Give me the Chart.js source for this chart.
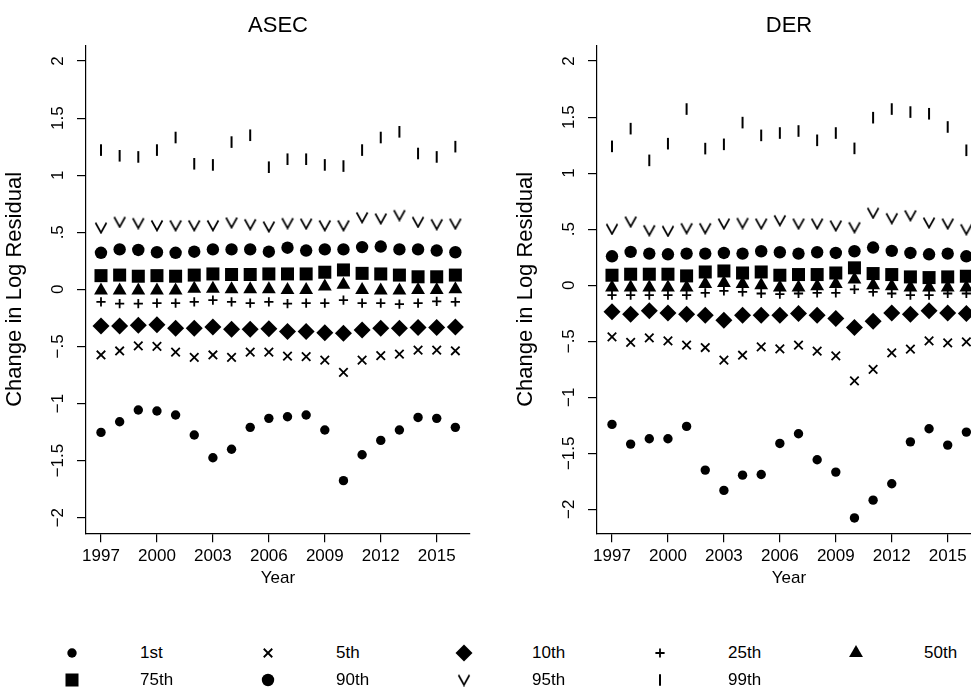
<!DOCTYPE html>
<html>
<head>
  <title>Change in Log Residual by Percentile: ASEC and DER</title>
  <script src="https://cdn.jsdelivr.net/npm/chart.js"></script>
  <style>
    body { margin: 0; background: #fff; overflow: hidden; font-family: "Liberation Sans", Arial, Helvetica, sans-serif; }
    #wrap { position: relative; width: 971px; height: 698px; overflow: hidden; }
    canvas.panel { position: absolute; top: 0; }
    .key { position: absolute; font-size: 17px; line-height: 20px; color: #000; white-space: nowrap; }
    .mark { position: absolute; }
  </style>
</head>
<body>
<div id="wrap">
  <canvas id="asec" class="panel" width="480" height="600" style="left:0px"></canvas>
  <canvas id="der" class="panel" width="480" height="600" style="left:511px"></canvas>
  <div id="legend"></div>
</div>
<script>
  const FONT = '"Liberation Sans", Arial, Helvetica, sans-serif';

  const years = [1997, 1998, 1999, 2000, 2001, 2002, 2003, 2004, 2005, 2006,
                 2007, 2008, 2009, 2010, 2011, 2012, 2013, 2014, 2015, 2016];
  const xTicks = [1997, 2000, 2003, 2006, 2009, 2012, 2015];
  const yTicks = [-2, -1.5, -1, -0.5, 0, 0.5, 1, 1.5, 2];
  const yTickLabels = ['−2', '−1.5', '−1', '−.5', '0', '.5', '1', '1.5', '2'];
  const pctLabels = ['1st', '5th', '10th', '25th', '50th', '75th', '90th', '95th', '99th'];

  // ASEC
  const asecP1  = [-1.253, -1.160, -1.057, -1.066, -1.101, -1.276, -1.475, -1.401, -1.209, -1.130,
                   -1.116, -1.101, -1.232, -1.676, -1.449, -1.323, -1.232, -1.122, -1.130, -1.209];
  const asecP5  = [-0.575, -0.54, -0.495, -0.50, -0.55, -0.595, -0.575, -0.595, -0.55, -0.55,
                   -0.585, -0.59, -0.62, -0.727, -0.62, -0.58, -0.567, -0.532, -0.532, -0.538];
  const asecP10 = [-0.32, -0.32, -0.315, -0.31, -0.34, -0.34, -0.33, -0.35, -0.35, -0.345,
                   -0.37, -0.37, -0.38, -0.385, -0.355, -0.34, -0.34, -0.335, -0.335, -0.33];
  const asecP25 = [-0.11, -0.125, -0.125, -0.12, -0.12, -0.11, -0.095, -0.11, -0.12, -0.11,
                   -0.125, -0.12, -0.12, -0.095, -0.12, -0.12, -0.13, -0.12, -0.105, -0.11];
  const asecP50 = [-0.01, -0.01, -0.01, -0.01, -0.01, 0.005, 0.005, 0.0, 0.0, 0.0,
                   -0.005, -0.005, 0.025, 0.04, -0.005, -0.01, -0.01, -0.005, -0.005, 0.0];
  const asecP75 = [0.12, 0.125, 0.115, 0.12, 0.115, 0.125, 0.135, 0.13, 0.13, 0.135,
                   0.135, 0.135, 0.15, 0.17, 0.14, 0.135, 0.125, 0.11, 0.11, 0.125];
  const asecP90 = [0.32, 0.35, 0.345, 0.325, 0.32, 0.33, 0.35, 0.35, 0.35, 0.33,
                   0.365, 0.34, 0.35, 0.35, 0.37, 0.375, 0.35, 0.35, 0.34, 0.325];
  const asecP95 = [0.54, 0.59, 0.58, 0.56, 0.56, 0.56, 0.56, 0.585, 0.57, 0.55,
                   0.58, 0.575, 0.56, 0.56, 0.63, 0.62, 0.65, 0.59, 0.57, 0.575];
  const asecP99 = [1.22, 1.17, 1.16, 1.22, 1.33, 1.10, 1.09, 1.29, 1.35, 1.07,
                   1.14, 1.14, 1.09, 1.08, 1.22, 1.33, 1.38, 1.19, 1.16, 1.25];

  // DER
  const derP1  = [-1.242, -1.418, -1.370, -1.370, -1.260, -1.650, -1.831, -1.695, -1.689, -1.412,
                  -1.326, -1.558, -1.668, -2.077, -1.918, -1.772, -1.398, -1.281, -1.427, -1.311];
  const derP5  = [-0.461, -0.511, -0.470, -0.497, -0.535, -0.556, -0.669, -0.625, -0.550, -0.568,
                  -0.535, -0.588, -0.630, -0.853, -0.752, -0.603, -0.571, -0.497, -0.514, -0.505];
  const derP10 = [-0.238, -0.259, -0.229, -0.247, -0.259, -0.268, -0.312, -0.268, -0.268, -0.268,
                  -0.253, -0.268, -0.297, -0.378, -0.321, -0.247, -0.259, -0.229, -0.247, -0.253];
  const derP25 = [-0.089, -0.089, -0.089, -0.089, -0.089, -0.068, -0.05, -0.059, -0.074, -0.079,
                  -0.074, -0.068, -0.068, -0.038, -0.059, -0.074, -0.089, -0.089, -0.074, -0.074];
  const derP50 = [-0.02, -0.02, -0.02, -0.02, -0.02, 0.01, 0.02, 0.01, 0.0, -0.02,
                  -0.02, -0.01, 0.01, 0.05, 0.0, -0.01, -0.02, -0.02, -0.02, -0.02];
  const derP75 = [0.089, 0.098, 0.098, 0.098, 0.083, 0.118, 0.127, 0.109, 0.118, 0.089,
                  0.095, 0.095, 0.109, 0.155, 0.104, 0.095, 0.074, 0.068, 0.074, 0.080];
  const derP90 = [0.258, 0.297, 0.282, 0.276, 0.282, 0.282, 0.288, 0.282, 0.303, 0.294,
                  0.282, 0.294, 0.288, 0.303, 0.336, 0.306, 0.288, 0.276, 0.282, 0.258];
  const derP95 = [0.502, 0.567, 0.49, 0.484, 0.508, 0.508, 0.549, 0.555, 0.549, 0.579,
                  0.549, 0.549, 0.532, 0.517, 0.645, 0.597, 0.623, 0.558, 0.549, 0.499];
  const derP99 = [1.239, 1.397, 1.114, 1.263, 1.572, 1.219, 1.257, 1.451, 1.337, 1.358,
                  1.376, 1.293, 1.358, 1.221, 1.495, 1.572, 1.545, 1.530, 1.412, 1.204];

  // "V" marker for the 95th percentile
  function vMark() {
    const c = document.createElement('canvas');
    c.width = 14; c.height = 13;
    const g = c.getContext('2d');
    g.strokeStyle = '#000';
    g.lineWidth = 1.7;
    g.beginPath();
    g.moveTo(1.5, 1.5); g.lineTo(7, 11.5); g.lineTo(12.5, 1.5);
    g.stroke();
    return c;
  }

  const markers = [
    { pointStyle: 'circle',   radius: 4.7, borderWidth: 0 },
    { pointStyle: 'crossRot', radius: 6,   borderWidth: 1.8 },
    { pointStyle: 'rectRot',  radius: 8.5, borderWidth: 0 },
    { pointStyle: 'cross',    radius: 4.6, borderWidth: 1.8 },
    { pointStyle: 'triangle', radius: 8,   borderWidth: 0 },
    { pointStyle: 'rect',     radius: 9.2, borderWidth: 0 },
    { pointStyle: 'circle',   radius: 6.2, borderWidth: 0 },
    { pointStyle: vMark(),    radius: 6,   borderWidth: 0 },
    { pointStyle: 'line',     radius: 5.8, borderWidth: 2, rotation: 90 }
  ];

  function makeDatasets(series) {
    return series.map((vals, i) => ({
      label: pctLabels[i],
      data: years.map((yr, j) => ({ x: yr, y: vals[j] })),
      showLine: false,
      pointStyle: markers[i].pointStyle,
      pointRadius: markers[i].radius,
      pointBorderWidth: markers[i].borderWidth,
      pointRotation: markers[i].rotation || 0,
      pointBackgroundColor: '#000',
      pointBorderColor: '#000',
      clip: false
    }));
  }

  const axisGrid = { drawOnChartArea: false, drawTicks: true, tickLength: 9, color: '#000', lineWidth: 1.2 };
  const axisBorder = { display: true, color: '#000', width: 1.2 };

  function panel(id, title, series, yMin, yMax) {
    new Chart(document.getElementById(id), {
      type: 'scatter',
      data: { datasets: makeDatasets(series) },
      options: {
        responsive: false,
        animation: false,
        events: [],
        layout: { padding: { left: 0, right: 10, top: 0, bottom: 0 } },
        plugins: {
          legend: { display: false },
          tooltip: { enabled: false },
          title: {
            display: true, text: title, fullSize: false, color: '#000',
            font: { family: FONT, size: 22, weight: 'normal' },
            padding: { top: 13, bottom: 6 }
          }
        },
        scales: {
          x: {
            type: 'linear', min: 1996.196, max: 2016.785,
            afterBuildTicks: s => { s.ticks = xTicks.map(v => ({ value: v })); },
            afterFit: s => { s.height = 66.7; },
            ticks: { color: '#000', font: { family: FONT, size: 17 }, padding: 3.5, minRotation: 0, maxRotation: 0,
                     callback: v => String(v) },
            grid: axisGrid,
            border: axisBorder,
            title: { display: true, text: 'Year', color: '#000', font: { family: FONT, size: 17 },
                     padding: { top: 0, bottom: 11.5 } }
          },
          y: {
            type: 'linear', min: yMin, max: yMax,
            afterBuildTicks: s => { s.ticks = yTicks.map(v => ({ value: v })); },
            afterFit: s => { s.width = 86; },
            ticks: { color: '#000', font: { family: FONT, size: 17 }, padding: 1.5,
                     minRotation: 90, maxRotation: 90, crossAlign: 'center',
                     callback: v => yTickLabels[yTicks.indexOf(v)] },
            grid: axisGrid,
            border: axisBorder,
            title: { display: true, text: 'Change in Log Residual', color: '#000',
                     font: { family: FONT, size: 22 }, padding: { top: 2, bottom: 0 } }
          }
        }
      }
    });
  }

  panel('asec', 'ASEC', [asecP1, asecP5, asecP10, asecP25, asecP50, asecP75, asecP90, asecP95, asecP99], -2.137, 2.137);
  panel('der', 'DER', [derP1, derP5, derP10, derP25, derP50, derP75, derP90, derP95, derP99], -2.214, 2.14);

  // legend below the panels
  const legend = document.getElementById('legend');
  pctLabels.forEach((lab, i) => {
    const col = i % 5, row = Math.floor(i / 5);
    const cx = 72 + 196 * col, cy = 653 + 27 * row;
    const c = document.createElement('canvas');
    c.width = 30; c.height = 30;
    c.className = 'mark';
    c.style.left = (cx - 15) + 'px';
    c.style.top = (cy - 15) + 'px';
    const g = c.getContext('2d');
    g.fillStyle = '#000'; g.strokeStyle = '#000';
    g.lineWidth = markers[i].borderWidth;
    if (Chart.helpers && Chart.helpers.drawPoint) {
      Chart.helpers.drawPoint(g, { pointStyle: markers[i].pointStyle, radius: markers[i].radius,
        borderWidth: markers[i].borderWidth, rotation: markers[i].rotation || 0 }, 15, 15);
    } else {
      g.beginPath(); g.arc(15, 15, 5, 0, Math.PI * 2); g.fill();
    }
    legend.appendChild(c);
    const t = document.createElement('div');
    t.className = 'key';
    t.textContent = lab;
    t.style.left = (140 + 196 * col) + 'px';
    t.style.top = (cy - 10) + 'px';
    legend.appendChild(t);
  });
</script>
</body>
</html>
